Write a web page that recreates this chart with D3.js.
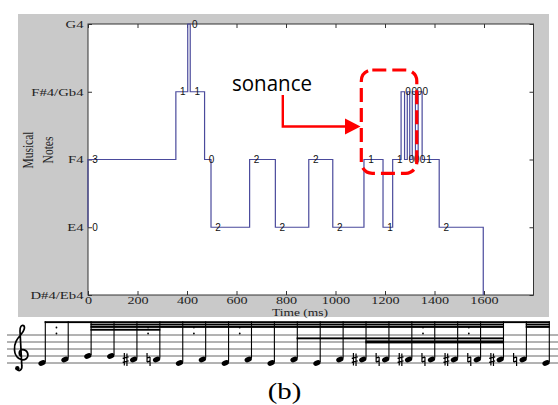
<!DOCTYPE html>
<html>
<head>
<meta charset="utf-8">
<script src="https://cdn.jsdelivr.net/npm/d3@7"></script>
<style>
    body { margin: 0; background: #fff; }
    svg { display: block; }
</style>
</head>
<body>
<script>
(function(){

    //note names on the y axis, lowest first
    var noteNames = ["D#4/Eb4", "E4", "F4", "F#4/Gb4", "G4"];
    //labelled ticks of the time axis (ms)
    var timeTicks = [0, 200, 400, 600, 800, 1000, 1200, 1400, 1600];

    //step curve: start time (ms), note index, count printed beside each step
    var segStart = [0, 0, 355, 403, 413, 471, 497, 653, 757, 892, 989, 1115, 1192, 1231, 1265, 1279, 1290, 1300, 1310, 1323, 1334, 1350, 1419, 1597];
    var segNote  = [1, 2, 3, 4, 3, 2, 1, 2, 1, 2, 1, 2, 1, 2, 3, 2, 3, 2, 3, 2, 3, 2, 1, 0];
    var segLabel = ["0", "3", "1", "0", "1", "0", "2", "2", "2", "2", "2", "1", "1", "1", "0", "0", "0", "0", "0", "0", "0", "1", "2", ""];

    //score under the chart: staff step of each note (0 = E4, 1 = F4, 2 = G4) and accidentals
    var scoreStep = [0, 1, 2, 2, 1, 1, 0, 1, 0, 1, 0, 1, 0, 1, 1, 1, 1, 1, 1, 1, 1, 1, 0];
    var scoreAccidental = ["", "", "", "", "sharp", "natural", "", "", "", "", "", "", "", "", "sharp", "natural", "sharp", "natural", "sharp", "natural", "sharp", "natural", ""];
    //beams: first note, last note, beam level
    var beamFrom  = [0, 2, 2, 21, 21, 2, 11, 14];
    var beamTo    = [22, 20, 20, 22, 22, 5, 20, 20];
    var beamLevel = [0, 1, 2, 1, 2, 3, 4, 5];
    //notes followed by a small dot mark
    var dotNotes = [0, 4, 6, 8, 16, 18];

    var width = 558, height = 405;

    var svg = d3.select("body")
        .append("svg")
        .attr("width", width)
        .attr("height", height);

    //grey figure background
    svg.append("rect")
        .attr("x", 18)
        .attr("y", 14)
        .attr("width", 531)
        .attr("height", 303)
        .style("fill", "#c9c9c9");

    var plot = {left: 88, right: 533.5, top: 24, bottom: 295};

    var x = d3.scaleLinear()
        .domain([0, 1800])
        .range([plot.left, plot.right]);

    var y = d3.scaleLinear()
        .domain([0, noteNames.length - 1])
        .range([plot.bottom, plot.top]);

    svg.append("rect")
        .attr("x", plot.left)
        .attr("y", plot.top)
        .attr("width", plot.right - plot.left)
        .attr("height", plot.bottom - plot.top)
        .style("fill", "#fff");

    setAxes();
    setSteps();
    setAnnotation();
    setScore();

    function setAxes(){
        var serif = "'Liberation Serif', 'Times New Roman', serif";

        var bottom = svg.append("g")
            .attr("transform", "translate(0," + plot.bottom + ")")
            .call(d3.axisBottom(x).tickValues(timeTicks).tickFormat(d3.format("d"))
                .tickSizeInner(-4).tickSizeOuter(0).tickPadding(1.5));

        svg.append("g")
            .attr("transform", "translate(0," + plot.top + ")")
            .call(d3.axisTop(x).tickValues(timeTicks).tickSizeInner(-4).tickSizeOuter(0).tickFormat(""));

        var left = svg.append("g")
            .attr("transform", "translate(" + plot.left + ",0)")
            .call(d3.axisLeft(y).tickValues(d3.range(noteNames.length))
                .tickFormat(function(i){ return noteNames[i]; })
                .tickSizeInner(-4).tickSizeOuter(0).tickPadding(4));

        svg.append("g")
            .attr("transform", "translate(" + plot.right + ",0)")
            .call(d3.axisRight(y).tickValues(d3.range(noteNames.length))
                .tickSizeInner(-4).tickSizeOuter(0).tickFormat(""));

        svg.selectAll(".domain").remove();
        svg.selectAll(".tick line").style("stroke", "#333");

        //stretched serif labels like the original figure
        bottom.selectAll("text")
            .style("font-family", serif)
            .style("font-size", "10.5px")
            .style("fill", "#222")
            .attr("transform", "scale(1.35,1)");

        left.selectAll("text")
            .style("font-family", serif)
            .style("font-size", "10.5px")
            .style("fill", "#222")
            .attr("x", -4.5 / 1.4)
            .attr("transform", "scale(1.4,1)");

        //plot frame
        svg.append("rect")
            .attr("x", plot.left)
            .attr("y", plot.top)
            .attr("width", plot.right - plot.left)
            .attr("height", plot.bottom - plot.top)
            .style("fill", "none")
            .style("stroke", "#333")
            .style("stroke-width", 1);

        svg.append("text")
            .attr("transform", "translate(300,315.5) scale(1.35,1)")
            .attr("text-anchor", "middle")
            .style("font-family", serif)
            .style("font-size", "10px")
            .style("fill", "#222")
            .text("Time (ms)");

        [["Musical", 33], ["Notes", 53]].forEach(function(line){
            svg.append("text")
                .attr("transform", "translate(" + line[1] + ",150) scale(1.35,1) rotate(-90)")
                .attr("text-anchor", "middle")
                .style("font-family", serif)
                .style("font-size", "11.5px")
                .style("fill", "#222")
                .text(line[0]);
        });
    };

    function setSteps(){
        var points = segStart.map(function(t, i){
            return {t: t, n: segNote[i], label: segLabel[i]};
        });

        var line = d3.line()
            .x(function(d){ return x(d.t); })
            .y(function(d){ return y(d.n); })
            .curve(d3.curveStepAfter);

        svg.append("path")
            .datum(points)
            .attr("d", line)
            .style("fill", "none")
            .style("stroke", "#4a4a9c")
            .style("stroke-width", 1.2);

        svg.selectAll(".stepLabels")
            .data(points.filter(function(d){ return d.label !== ""; }))
            .enter()
            .append("text")
            .attr("class", "stepLabels")
            .attr("x", function(d){ return x(d.t) + 7; })
            .attr("y", function(d){ return y(d.n); })
            .attr("dy", "0.35em")
            .attr("text-anchor", "middle")
            .style("font-family", "'Liberation Sans', Arial, sans-serif")
            .style("font-size", "10px")
            .style("fill", "#111")
            .text(function(d){ return d.label; });
    };

    function setAnnotation(){
        svg.append("text")
            .attr("x", 232)
            .attr("y", 90.5)
            .attr("textLength", 80)
            .attr("lengthAdjust", "spacingAndGlyphs")
            .style("font-family", "'Open Sans', 'Liberation Sans', sans-serif")
            .style("font-size", "22px")
            .style("fill", "#000")
            .text("sonance");

        svg.append("path")
            .attr("d", "M282.8,95 V126.5 H347")
            .style("fill", "none")
            .style("stroke", "#ff0000")
            .style("stroke-width", 2.4);

        svg.append("path")
            .attr("d", "M345,118.5 L360.5,126.5 L345,134.5 Z")
            .style("fill", "#ff0000");

        svg.append("rect")
            .attr("x", 361.3)
            .attr("y", 70)
            .attr("width", 55.5)
            .attr("height", 103.3)
            .attr("rx", 11)
            .style("fill", "none")
            .style("stroke", "#ff0000")
            .style("stroke-width", 3.2)
            .style("stroke-dasharray", "14,6");
    };

    function setScore(){
        var staffBottom = 363, gap = 7;

        var noteX = d3.scalePoint()
            .domain(d3.range(scoreStep.length))
            .range([42, 546]);

        function noteY(i){ return staffBottom - scoreStep[i] * gap / 2; }

        //staff lines
        svg.selectAll(".staff")
            .data(d3.range(5))
            .enter()
            .append("line")
            .attr("class", "staff")
            .attr("x1", 7)
            .attr("x2", width)
            .attr("y1", function(d){ return staffBottom - d * gap; })
            .attr("y2", function(d){ return staffBottom - d * gap; })
            .style("stroke", "#666")
            .style("stroke-width", 1);

        //treble clef
        svg.append("path")
            .attr("d", "M17,369 C19,372 22.5,370 21.8,365.5 L20,331 C19.8,327 21.5,324.5 23.5,325.5 C25.6,327 24,331 21,334.5 C17,339 14,343 14.5,350 C15,358 22,362 26.5,358.5 C29.5,355 27.3,349.3 22.5,349.6 C18.5,350 18.3,355 21.5,356.5")
            .style("fill", "none")
            .style("stroke", "#000")
            .style("stroke-width", 1.7);
        svg.append("circle")
            .attr("cx", 17.3)
            .attr("cy", 368.3)
            .attr("r", 2.2)
            .style("fill", "#000");

        var beamTop = 321.2;
        var beamY = [beamTop, beamTop + 2.4, beamTop + 4.8, beamTop + 7.6, beamTop + 16.2, beamTop + 19.2];

        //beams
        svg.selectAll(".beam")
            .data(beamFrom)
            .enter()
            .append("rect")
            .attr("class", "beam")
            .attr("x", function(d){ return noteX(d) + 2.6; })
            .attr("y", function(d, i){ return beamY[beamLevel[i]]; })
            .attr("width", function(d, i){ return noteX(beamTo[i]) - noteX(d) + 1.2; })
            .attr("height", function(d, i){ return beamLevel[i] == 5 ? 3 : 1.9; })
            .style("fill", "#000");

        //stems
        svg.selectAll(".stem")
            .data(scoreStep)
            .enter()
            .append("line")
            .attr("class", "stem")
            .attr("x1", function(d, i){ return noteX(i) + 3.3; })
            .attr("x2", function(d, i){ return noteX(i) + 3.3; })
            .attr("y1", function(d, i){ return noteY(i) - 1; })
            .attr("y2", beamTop)
            .style("stroke", "#000")
            .style("stroke-width", 1.1);

        //note heads
        svg.selectAll(".head")
            .data(scoreStep)
            .enter()
            .append("ellipse")
            .attr("class", "head")
            .attr("transform", function(d, i){
                return "translate(" + noteX(i) + "," + noteY(i) + ") rotate(-25)";
            })
            .attr("rx", 3.8)
            .attr("ry", 2.6)
            .style("fill", "#000");

        //accidentals drawn as small strokes
        var accidentalPath = {
            sharp: "M-1.3,-6.5 V6 M1.3,-6 V6.5 M-3,-1.2 L3,-2.6 M-3,2.8 L3,1.4",
            natural: "M-1.5,-6.5 V2.6 M1.5,-2.6 V6.5 M-1.5,-1.4 L1.5,-2.6 M-1.5,2.6 L1.5,1.4"
        };
        scoreAccidental.forEach(function(d, i){
            if (d === "") return;
            svg.append("path")
                .attr("class", "accidental")
                .attr("transform", "translate(" + (noteX(i) - 8) + "," + noteY(i) + ")")
                .attr("d", accidentalPath[d])
                .style("fill", "none")
                .style("stroke", "#000")
                .style("stroke-width", 1.2);
        });

        //small dot marks between beams
        dotNotes.forEach(function(n){
            var cx = (noteX(n) + noteX(n + 1)) / 2 + 3;
            [327.5, 333.5].forEach(function(cy){
                svg.append("circle")
                    .attr("cx", cx)
                    .attr("cy", cy)
                    .attr("r", 0.9)
                    .style("fill", "#000");
            });
        });

        svg.append("text")
            .attr("transform", "translate(284.5,399) scale(1.2,1)")
            .attr("text-anchor", "middle")
            .style("font-family", "'Liberation Serif', 'Times New Roman', serif")
            .style("font-size", "24px")
            .style("fill", "#000")
            .text("(b)");
    };

})();
</script>
</body>
</html>
